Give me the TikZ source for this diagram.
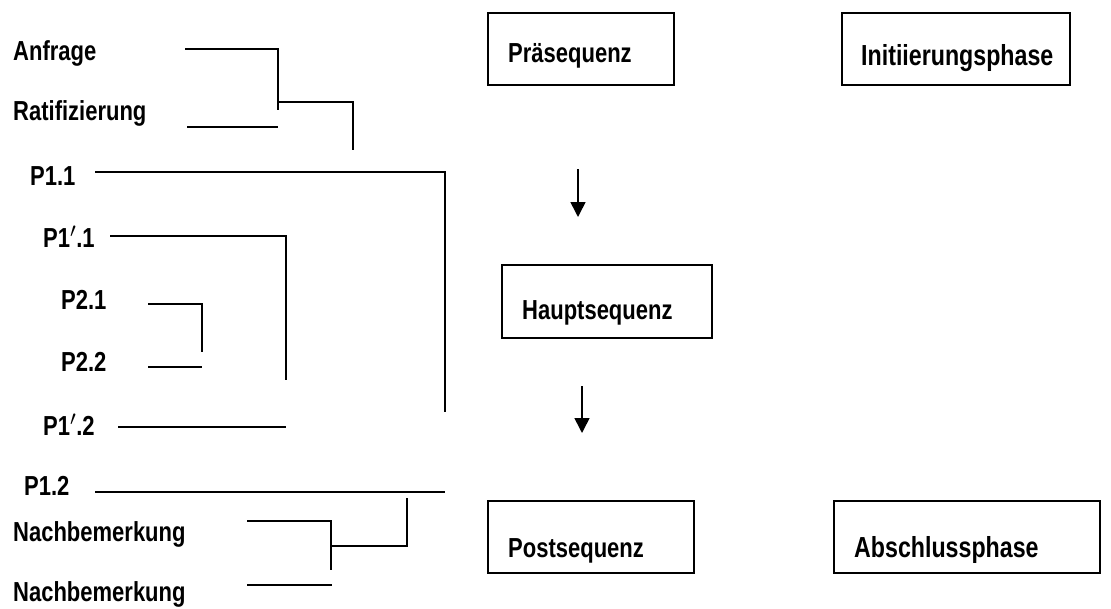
\documentclass[tikz,border=0pt]{standalone}
\usepackage{fontspec}
\setmainfont[FakeStretch=0.8]{Liberation Sans}
\usetikzlibrary{arrows.meta}

\tikzset{
  lbl/.style={anchor=base west, inner sep=0pt, font=\bfseries\fontsize{27.5}{31}\selectfont},
  phaselbl/.style={lbl, font=\bfseries\fontsize{29}{32}\selectfont},
  bracket/.style={line width=1.6pt},
  frame/.style={draw, line width=1.8pt},
  flow/.style={line width=1.6pt, -{Triangle[width=15pt,length=15pt]}}
}

\begin{document}
\begin{tikzpicture}[x=1pt, y=-1pt]
\useasboundingbox (0,0) rectangle (1111,608);

% ---- labels of the utterance sequence ----
\node[lbl] (anf)  at (13,60)  {Anfrage};
\node[lbl] (rat)  at (13,120) {Ratifizierung};
\node[lbl] (p11)  at (30,185) {P1.1};
\node[lbl] (p1s1) at (43,247) {P1$'$.1};
\node[lbl] (p21)  at (61,309) {P2.1};
\node[lbl] (p22)  at (61,371) {P2.2};
\node[lbl] (p1s2) at (43,435) {P1$'$.2};
\node[lbl] (p12)  at (24,495) {P1.2};
\node[lbl] (nb1)  at (13,541) {Nachbemerkung};
\node[lbl] (nb2)  at (13,601) {Nachbemerkung};

% ---- bracket end points ----
\coordinate (anfA) at (185,49);  \coordinate (anfB) at (278,49);
\coordinate (ratA) at (187,127); \coordinate (ratB) at (278,127);
\coordinate (jPre) at (278,110); \coordinate (jPreM) at (278,102);
\coordinate (preC) at (353,102); \coordinate (preD) at (353,150);

\coordinate (p11A) at (95,172);  \coordinate (p11B) at (445,172);
\coordinate (p11C) at (445,412);
\coordinate (p1s1A) at (110,236); \coordinate (p1s1B) at (286,236);
\coordinate (p1s1C) at (286,380);
\coordinate (p21A) at (148,304); \coordinate (p21B) at (202,304);
\coordinate (p21C) at (202,352);
\coordinate (p22A) at (148,367); \coordinate (p22B) at (202,367);
\coordinate (p1s2A) at (118,427); \coordinate (p1s2B) at (286,427);
\coordinate (p12A) at (95,492);  \coordinate (p12B) at (445,492);

\coordinate (postT) at (407,498); \coordinate (postM) at (407,546);
\coordinate (jPost) at (331,546);
\coordinate (nb1A) at (247,521); \coordinate (nb1B) at (331,521);
\coordinate (nb1C) at (331,570);
\coordinate (nb2A) at (247,585); \coordinate (nb2B) at (332,585);

% ---- brackets ----
\draw[bracket] (anfA) -- (anfB) -- (jPre);
\draw[bracket] (ratA) -- (ratB);
\draw[bracket] (jPreM) -- (preC) -- (preD);
\draw[bracket] (p11A) -- (p11B) -- (p11C);
\draw[bracket] (p1s1A) -- (p1s1B) -- (p1s1C);
\draw[bracket] (p21A) -- (p21B) -- (p21C);
\draw[bracket] (p22A) -- (p22B);
\draw[bracket] (p1s2A) -- (p1s2B);
\draw[bracket] (p12A) -- (p12B);
\draw[bracket] (postT) -- (postM) -- (jPost);
\draw[bracket] (nb1A) -- (nb1B) -- (nb1C);
\draw[bracket] (nb2A) -- (nb2B);

% ---- sequence boxes ----
\draw[frame] (488,13) rectangle (674,85);
\node[lbl] (pre) at (508,62) {Präsequenz};
\draw[frame] (502,265) rectangle (712,338);
\node[lbl] (haupt) at (522,319) {Hauptsequenz};
\draw[frame] (488,501) rectangle (694,573);
\node[lbl] (post) at (508,557) {Postsequenz};

% ---- phase boxes ----
\draw[frame] (842,13) rectangle (1070,85);
\node[phaselbl] (init) at (861,65) {Initiierungsphase};
\draw[frame] (834,501) rectangle (1100,573);
\node[phaselbl] (absch) at (854,557) {Abschlussphase};

% ---- flow arrows ----
\coordinate (f1a) at (578,169); \coordinate (f1b) at (578,217);
\coordinate (f2a) at (582,386); \coordinate (f2b) at (582,433);
\draw[flow] (f1a) -- (f1b);
\draw[flow] (f2a) -- (f2b);
\end{tikzpicture}
\end{document}
